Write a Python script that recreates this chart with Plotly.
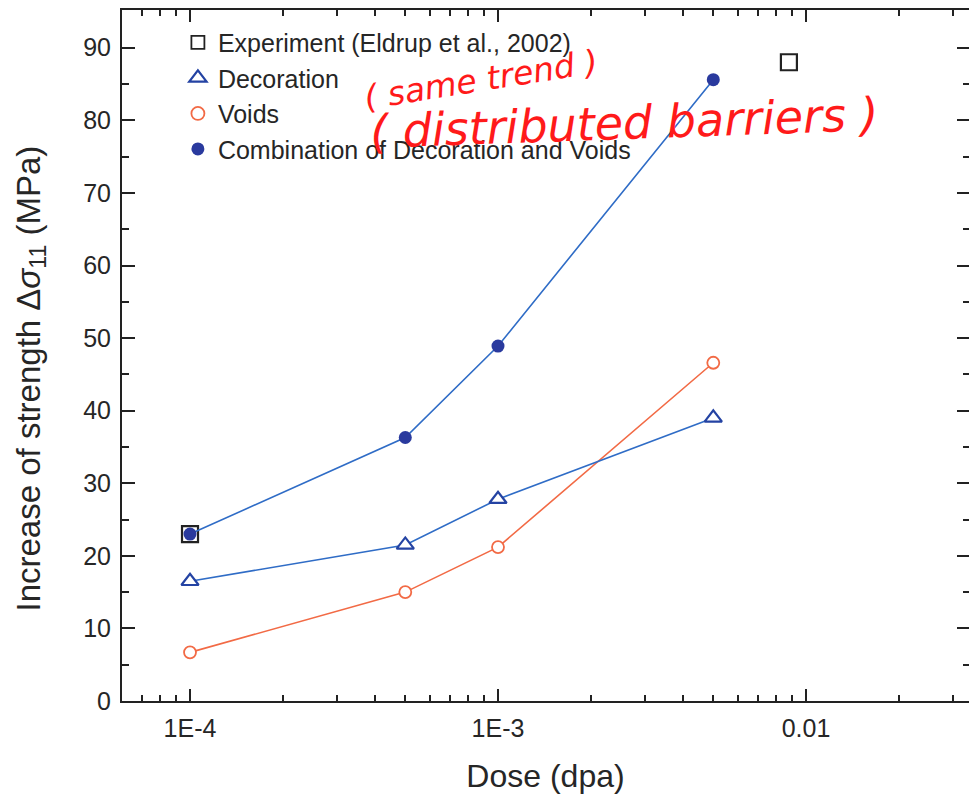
import numpy as np
import plotly.graph_objects as go

# Dose (dpa) and strength increase (MPa)
dose = [1e-4, 5e-4, 1e-3, 5e-3]
decoration = [16.5, 21.5, 27.8, 39.0]
voids = [6.7, 15.0, 21.2, 46.6]
combination = [23.0, 36.3, 48.9, 85.6]
exp_dose = [1e-4, 8.8e-3]
exp_strength = [23.0, 88.0]

x_tickvals = [1e-4, 1e-3, 1e-2]
x_ticktext = ["1E-4", "1E-3", "0.01"]
x_minor = [m * 10.0 ** d for d in (-5, -4, -3, -2) for m in range(2, 10)]

FONT = "Liberation Sans, Arial, sans-serif"
BLUE_LINE = "#2f6cc6"
BLUE_MARK = "#2a3a9e"
TRI_BLUE = "#2443a3"
ORANGE = "#f26a45"
TXT = "#262626"

fig = go.Figure()

fig.add_trace(go.Scatter(
    x=dose, y=voids, mode="lines+markers", showlegend=False,
    line=dict(color=ORANGE, width=1.6),
    marker=dict(symbol="circle", size=12, color="white",
                line=dict(color=ORANGE, width=1.8)),
))
fig.add_trace(go.Scatter(
    x=dose, y=decoration, mode="lines+markers", showlegend=False,
    line=dict(color=BLUE_LINE, width=1.6),
    marker=dict(symbol="triangle-up", size=15, color="white",
                line=dict(color=TRI_BLUE, width=2.2)),
))
fig.add_trace(go.Scatter(
    x=exp_dose, y=exp_strength, mode="markers", showlegend=False,
    marker=dict(symbol="square", size=16, color="white",
                line=dict(color="#222222", width=2.2)),
))
fig.add_trace(go.Scatter(
    x=dose, y=combination, mode="lines+markers", showlegend=False,
    line=dict(color=BLUE_LINE, width=1.6),
    marker=dict(symbol="circle", size=13, color=BLUE_MARK,
                line=dict(color=BLUE_MARK, width=0)),
))

# Legend entries (markers only)
legend_items = [
    ("Experiment (Eldrup et al., 2002)", dict(symbol="square-open", size=13, color="#222222", line=dict(width=1.8))),
    ("Decoration", dict(symbol="triangle-up-open", size=15, color=TRI_BLUE, line=dict(width=2.2))),
    ("Voids", dict(symbol="circle-open", size=13, color=ORANGE, line=dict(width=1.8))),
    ("Combination of Decoration and Voids", dict(symbol="circle", size=13, color=BLUE_MARK)),
]
for name, mk in legend_items:
    fig.add_trace(go.Scatter(x=[None], y=[None], mode="markers", name=name, marker=mk))

# Invisible trace carrying the mirrored right-hand axis
fig.add_trace(go.Scatter(x=[1e-4], y=[0], yaxis="y2", mode="markers",
                         marker=dict(opacity=0), showlegend=False, hoverinfo="skip"))

fig.update_layout(
    width=969, height=799,
    margin=dict(l=122, r=0, t=10, b=98),
    paper_bgcolor="white", plot_bgcolor="white",
    font=dict(family=FONT, color=TXT, size=25),
    showlegend=True,
    legend=dict(x=0.066, y=0.986, xanchor="left", yanchor="top",
                bgcolor="rgba(0,0,0,0)", font=dict(size=25, color=TXT),
                itemwidth=30, tracegroupgap=0),
    xaxis=dict(
        type="log", range=[-4.2208, -1.4708],
        tickvals=x_tickvals, ticktext=x_ticktext,
        ticks="inside", ticklen=12, tickwidth=1.5, tickcolor="#222",
        showline=True, linecolor="#222", linewidth=2, mirror="ticks",
        showgrid=False, zeroline=False, ticklabelstandoff=4,
        tickfont=dict(size=25, color=TXT),
        minor=dict(tickvals=x_minor, ticks="inside", ticklen=6,
                   tickwidth=1.5, tickcolor="#222", showgrid=False),
        title=dict(text="Dose (dpa)", font=dict(size=32, color=TXT), standoff=24),
    ),
    yaxis=dict(
        range=[0, 95.2], tickvals=list(range(0, 100, 10)),
        ticks="inside", ticklen=13, tickwidth=1.5, tickcolor="#222",
        showline=True, linecolor="#222", linewidth=2,
        showgrid=False, zeroline=False, ticklabelstandoff=4,
        tickfont=dict(size=25, color=TXT),
        minor=dict(tickvals=list(range(5, 95, 10)), ticks="inside", ticklen=7,
                   tickwidth=1.5, tickcolor="#222", showgrid=False),
    ),
    yaxis2=dict(
        overlaying="y", side="right", range=[0, 95.2],
        tickvals=list(range(0, 100, 10)), showticklabels=False,
        ticks="inside", ticklen=12, tickwidth=1.5, tickcolor="#222",
        showline=False, showgrid=False, zeroline=False,
        minor=dict(tickvals=list(range(5, 95, 10)), ticks="inside", ticklen=6,
                   tickwidth=1.5, tickcolor="#222", showgrid=False),
    ),
)

# Y-axis title
fig.add_annotation(xref="paper", yref="paper", x=-0.108, y=0.466,
                   xanchor="center", yanchor="middle", textangle=-90, showarrow=False,
                   text="Increase of strength \u0394<i>\u03c3</i><sub>11</sub> (MPa)",
                   font=dict(size=33, color=TXT, family=FONT))

# Red handwritten notes
fig.add_annotation(xref="paper", yref="paper", x=0.28, y=0.958, xanchor="left",
                   text="( same trend )", showarrow=False, textangle=-9,
                   font=dict(family="DejaVu Sans, sans-serif", size=33, color="#ff1a1a", style="italic"))
fig.add_annotation(xref="paper", yref="paper", x=0.29, y=0.892, xanchor="left",
                   text="( distributed barriers )", showarrow=False, textangle=-2,
                   font=dict(family="DejaVu Sans, sans-serif", size=46, color="#ff1a1a", style="italic"))

fig.write_html("out.html")
